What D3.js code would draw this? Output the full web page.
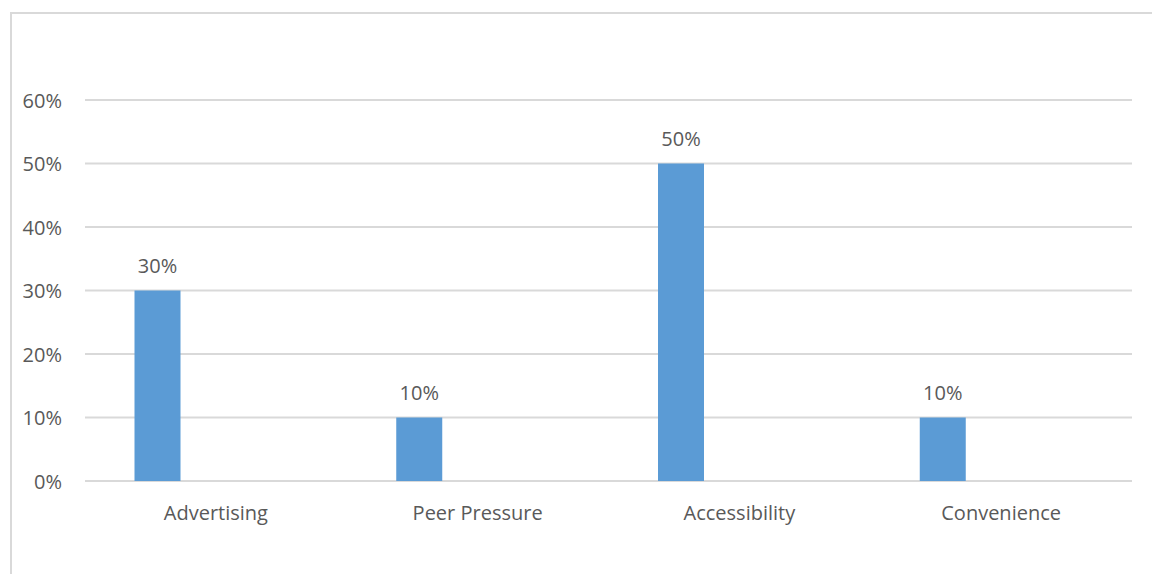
<!DOCTYPE html>
<html>
<head>
<meta charset="utf-8">
<script src="https://cdn.jsdelivr.net/npm/d3@7"></script>
<style>
  html, body { margin: 0; padding: 0; background: #fff; }
  svg { display: block; }
</style>
</head>
<body>
<svg id="chart" width="1152" height="574"></svg>
<script>
// Share of respondents by factor
const categories = ["Advertising", "Peer Pressure", "Accessibility", "Convenience"];
const values = [0.30, 0.10, 0.50, 0.10];
const yTicks = [0, 0.1, 0.2, 0.3, 0.4, 0.5, 0.6];

const svg = d3.select("#chart");
const font = "'Open Sans', 'Liberation Sans', sans-serif";
const textColor = "#595959";
const gridColor = "#d9d9d9";

// Chart frame (extends past the right and bottom edges)
svg.append("rect")
  .attr("x", 11).attr("y", 13)
  .attr("width", 1300).attr("height", 700)
  .attr("fill", "none")
  .attr("stroke", gridColor)
  .attr("stroke-width", 2);

const plot = { left: 85, right: 1132, top: 100, bottom: 481 };

const x = d3.scaleBand()
  .domain(categories)
  .range([plot.left, plot.right])
  .paddingInner(0).paddingOuter(0);

const y = d3.scaleLinear()
  .domain([0, 0.6])
  .range([plot.bottom, plot.top]);

// Bars sit in the first slot of each category group
const slot = d3.scaleBand()
  .domain(["s1", "s2"])
  .range([0, x.bandwidth()])
  .paddingInner(0)
  .paddingOuter(1.845)
  .align(0.2916);

const fmt = d3.format(".0%");

// Gridlines
svg.append("g")
  .selectAll("line")
  .data(yTicks)
  .join("line")
  .attr("x1", plot.left).attr("x2", plot.right)
  .attr("y1", d => y(d)).attr("y2", d => y(d))
  .attr("stroke", gridColor)
  .attr("stroke-width", 2);

// Y axis labels
const yAxis = d3.axisLeft(y).tickValues(yTicks).tickFormat(fmt).tickSize(0).tickPadding(0);
const yg = svg.append("g")
  .attr("transform", `translate(62,0)`)
  .call(yAxis);
yg.select(".domain").remove();
yg.selectAll("text")
  .attr("font-family", font)
  .attr("font-size", 20)
  .attr("fill", textColor)
  .attr("dy", "0.36em");

// Bars
svg.append("g")
  .selectAll("rect")
  .data(categories)
  .join("rect")
  .attr("x", (d) => x(d) + slot("s1"))
  .attr("width", slot.bandwidth())
  .attr("y", (d, i) => y(values[i]))
  .attr("height", (d, i) => y(0) - y(values[i]))
  .attr("fill", "#5b9bd5");

// Value labels
svg.append("g")
  .selectAll("text")
  .data(categories)
  .join("text")
  .attr("x", d => x(d) + slot("s1") + slot.bandwidth() / 2)
  .attr("y", (d, i) => y(values[i]) - 18)
  .attr("text-anchor", "middle")
  .attr("font-family", font)
  .attr("font-size", 20)
  .attr("fill", textColor)
  .text((d, i) => fmt(values[i]));

// Category axis labels
const xAxis = d3.axisBottom(x).tickSize(0).tickPadding(0);
const xg = svg.append("g")
  .attr("transform", `translate(0,${plot.bottom})`)
  .call(xAxis);
xg.select(".domain").remove();
xg.selectAll("text")
  .attr("font-family", font)
  .attr("font-size", 20)
  .attr("fill", textColor)
  .attr("dy", 0)
  .attr("y", 39);
</script>
</body>
</html>
